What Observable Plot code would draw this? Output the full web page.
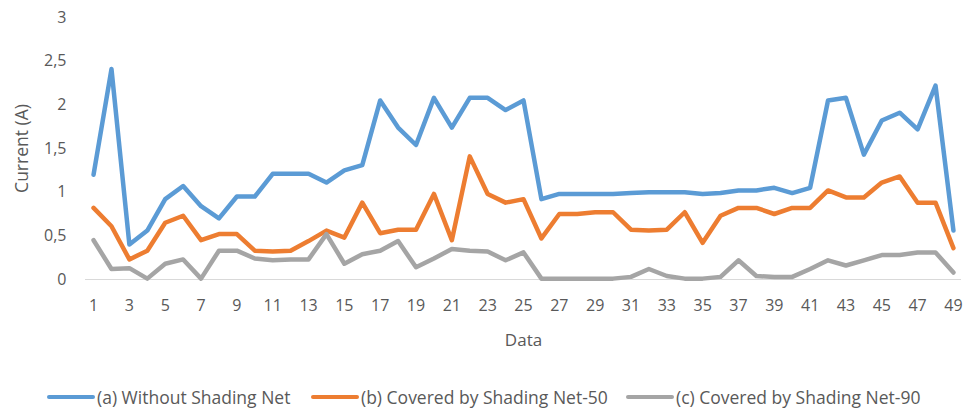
<!DOCTYPE html>
<html>
<head>
<meta charset="utf-8">
<script src="https://cdn.jsdelivr.net/npm/d3@7"></script>
<script src="https://cdn.jsdelivr.net/npm/@observablehq/plot@0.6"></script>
<style>
  body { margin: 0; background: #fff; font-family: "Open Sans", sans-serif; }
  #chart { position: relative; width: 966px; height: 409px; }
  .legend { position: absolute; top: 384px; left: 0; width: 966px; height: 26px; color: #595959; font-size: 17.5px; }
  .item { position: absolute; top: 0; display: flex; align-items: center; height: 26px; white-space: nowrap; }
  .sw { width: 48px; height: 4.5px; margin-right: 2px; border-radius: 2px; }
</style>
</head>
<body>
<div id="chart"></div>
<script>
const days = [1,2,3,4,5,6,7,8,9,10,11,12,13,14,15,16,17,18,19,20,21,22,23,24,25,26,27,28,29,30,31,32,33,34,35,36,37,38,39,40,41,42,43,44,45,46,47,48,49];
const seriesNames = ["(a) Without Shading Net", "(b) Covered by Shading Net-50", "(c) Covered by Shading Net-90"];
const withoutNet = [1.20,2.41,0.40,0.56,0.92,1.07,0.84,0.70,0.95,0.95, 1.21,1.21,1.21,1.11,1.25,1.31,2.05,1.74,1.54,2.08, 1.74,2.08,2.08,1.94,2.05,0.92,0.98,0.98,0.98,0.98, 0.99,1.00,1.00,1.00,0.98,0.99,1.02,1.02,1.05,0.99, 1.05,2.05,2.08,1.43,1.82,1.91,1.72,2.22,0.56];
const net50 = [0.82,0.61,0.23,0.33,0.65,0.73,0.45,0.52,0.52,0.33, 0.32,0.33,0.44,0.56,0.48,0.88,0.53,0.57,0.57,0.98, 0.45,1.41,0.98,0.88,0.92,0.47,0.75,0.75,0.77,0.77, 0.57,0.56,0.57,0.77,0.42,0.73,0.82,0.82,0.75,0.82, 0.82,1.02,0.94,0.94,1.11,1.18,0.88,0.88,0.36];
const net90 = [0.45,0.12,0.13,0.01,0.18,0.23,0.01,0.33,0.33,0.24, 0.22,0.23,0.23,0.52,0.18,0.29,0.33,0.44,0.14,0.24, 0.35,0.33,0.32,0.22,0.31,0.01,0.01,0.01,0.01,0.01, 0.03,0.12,0.04,0.01,0.01,0.03,0.22,0.04,0.03,0.03, 0.12,0.22,0.16,0.22,0.28,0.28,0.31,0.31,0.08];
const xTicks = [1,3,5,7,9,11,13,15,17,19,21,23,25,27,29,31,33,35,37,39,41,43,45,47,49];
const yTicks = [0,0.5,1,1.5,2,2.5,3];
const colors = ["#5B9BD5", "#ED7D31", "#A5A5A5"];

const values = [withoutNet, net50, net90];
const rows = values.flatMap((vals, s) => days.map((d, i) => ({day: d, value: vals[i], series: seriesNames[s]})));

const plot = Plot.plot({
  width: 966,
  height: 375,
  marginLeft: 85,
  marginRight: 5,
  marginTop: 17,
  marginBottom: 96,
  style: {fontFamily: "'Open Sans', sans-serif", color: "#595959", background: "#fff"},
  x: {type: "linear", domain: [0.55, 49.45]},
  y: {domain: [0, 3]},
  color: {domain: seriesNames, range: colors},
  marks: [
    Plot.ruleY([0], {stroke: "#D9D9D9", strokeWidth: 1}),
    Plot.axisX({ticks: xTicks, tickSize: 0, tickPadding: 20, fontSize: 16, tickFormat: d => String(d), label: null, fill: "#595959"}),
    Plot.axisY({ticks: yTicks, tickSize: 0, tickPadding: 19, fontSize: 16, tickFormat: d => String(d).replace(".", ","), label: null, fill: "#595959"}),
    Plot.line(rows, {x: "day", y: "value", z: "series", stroke: "series", strokeWidth: 4.5, strokeLinejoin: "round", strokeLinecap: "round"}),
    Plot.text([0], {frameAnchor: "left", text: () => "Current (A)", rotate: -90, dx: -63, textAnchor: "middle", lineAnchor: "middle", fontSize: 17.5, fill: "#595959"}),
    Plot.text([0], {frameAnchor: "bottom", text: () => "Data", dy: 61, textAnchor: "middle", lineAnchor: "middle", fontSize: 17, fill: "#595959"})
  ]
});

const chart = document.getElementById("chart");
chart.appendChild(plot);

const legend = document.createElement("div");
legend.className = "legend";
const lefts = [47, 311, 626];
seriesNames.forEach((name, i) => {
  const item = document.createElement("div");
  item.className = "item";
  item.style.left = lefts[i] + "px";
  const sw = document.createElement("span");
  sw.className = "sw";
  sw.style.background = colors[i];
  const t = document.createElement("span");
  t.textContent = name;
  item.appendChild(sw);
  item.appendChild(t);
  legend.appendChild(item);
});
chart.appendChild(legend);
</script>
</body>
</html>
